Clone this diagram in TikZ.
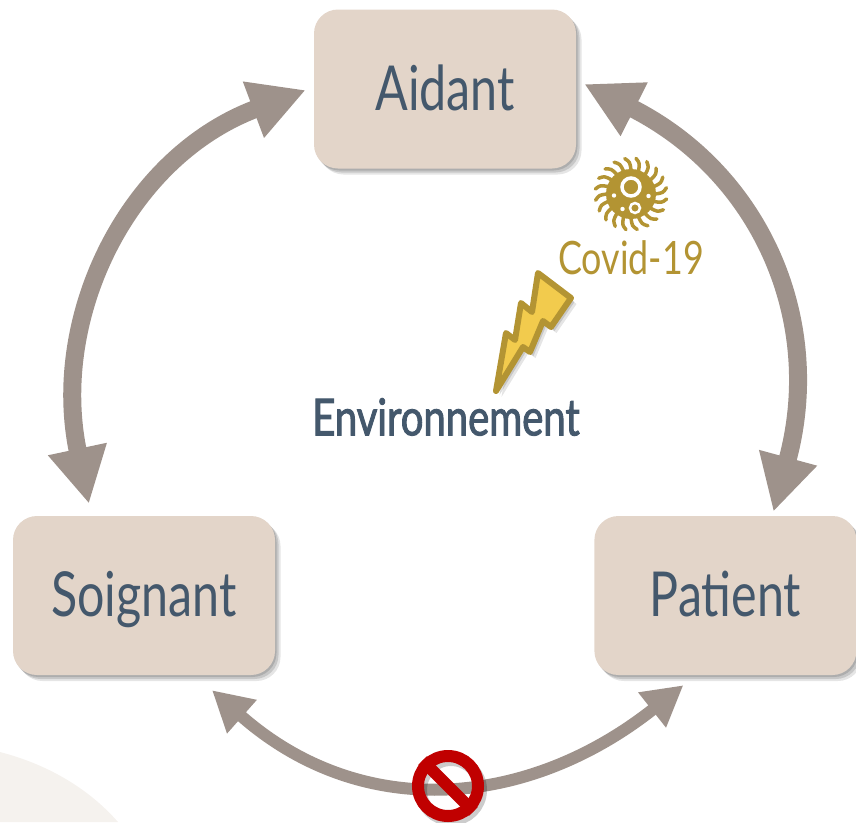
\documentclass[tikz,border=0pt]{standalone}
\usepackage{fontspec}
\usepackage{xcolor}
\setmainfont[FakeStretch=0.78]{Lato}
\newfontfamily\envfont[FakeStretch=0.785, FakeBold=1.8]{Lato}
\usetikzlibrary{arrows.meta, positioning, shadows}

\definecolor{boxbeige}{HTML}{E3D5C9}
\definecolor{inkblue}{HTML}{44586C}
\definecolor{arrowgrey}{HTML}{9E928B}
\definecolor{olive}{HTML}{B39433}
\definecolor{boltyellow}{HTML}{F2CB4D}
\definecolor{stopred}{HTML}{C00000}
\definecolor{blobbeige}{HTML}{F5F2EE}

\begin{document}
\begin{tikzpicture}[
    x=1pt, y=-1pt,
    softshadow/.style={
        general shadow={fill=black, opacity=.13, shadow xshift=1.5pt, shadow yshift=-2pt},
        general shadow={fill=black, opacity=.13, shadow xshift=3.5pt, shadow yshift=-4pt},
        general shadow={fill=black, opacity=.10, shadow xshift=5.5pt, shadow yshift=-6pt}},
    box/.style={rounded corners=24pt, fill=boxbeige, minimum width=262pt, minimum height=159pt, align=center, text=inkblue, text height=42pt, text depth=0pt, font=\fontsize{62}{62}\selectfont, softshadow},
    arrow/.style={{Triangle[length=56pt, width=56pt]}-{Triangle[length=56pt, width=56pt]}, line width=18pt, draw=arrowgrey},
    thinarrow/.style={{Triangle[length=40pt, width=42pt]}-{Triangle[length=40pt, width=42pt]}, line width=12pt, draw=arrowgrey}
]
    \useasboundingbox (0,0) rectangle (856,822);
    \fill[blobbeige] (0,752) .. controls (50,765) and (90,790) .. (118,822) -- (0,822) -- cycle;

    \node[box] (aidant) at (445,89) {Aidant};
    \node[box] (soignant) at (144,595.5) {Soignant};
    \node[box, right=319pt of soignant] (patient) {Patient};

    \draw[arrow] ([xshift=-55pt, yshift=12pt]soignant.north) .. controls (50,320) and (125,158) .. ([xshift=-8pt, yshift=-1pt]aidant.west);
    \draw[arrow] ([xshift=8pt, yshift=5pt]aidant.east) .. controls (762,174) and (825,322) .. ([xshift=48pt, yshift=4pt]patient.north);
    \draw[thinarrow] ([xshift=68pt, yshift=-15pt]soignant.south) .. controls (361,822) and (527,809) .. ([xshift=-42pt, yshift=-10pt]patient.south);

    % stop sign
    \draw[black, opacity=.2, line width=12pt] (451,790) circle (30);
    \node[circle, draw=stopred, line width=12pt, minimum size=60pt, inner sep=0pt] (stop) at (448,786) {};
    \draw[stopred, line width=12pt] (stop.135) -- (stop.-45);

    % virus
    \node[circle, fill=olive, minimum size=50pt, inner sep=0pt] (virus) at (631,194) {};
    \foreach \a in {0,18,...,350}
        \draw[olive, line width=3.5pt, line cap=round] ([shift={(\a:24pt)}]virus.center) .. controls ([shift={(\a+2:32pt)}]virus.center) .. ([shift={(\a+10:36pt)}]virus.center);
    \draw[white, line width=3.5pt] (631,187) circle (9);
    \draw[white, line width=2.5pt] (635,208) circle (5);
    \foreach \dotx/\doty in {614/195.5, 648.5/196, 622.5/209}
        \fill[white] (\dotx,\doty) circle (2.2);
    \node[below=21pt of virus, text=olive, inner sep=0pt, font=\fontsize{46}{46}\selectfont] (covid) {Covid-19};

    % bolt
    \draw[olive, fill=boltyellow, line width=6pt, line join=round, softshadow] (538,273) -- (571,298) -- (551,327) -- (543,321) -- (530,352) -- (523,347) -- (496,391) -- (506,333) -- (515,340) -- (521,303) -- (532,312) -- cycle;

    \node[text=inkblue, font=\envfont\fontsize{51}{51}\selectfont, inner sep=0pt] (envir) at (446,417) {Environnement};
\end{tikzpicture}
\end{document}
